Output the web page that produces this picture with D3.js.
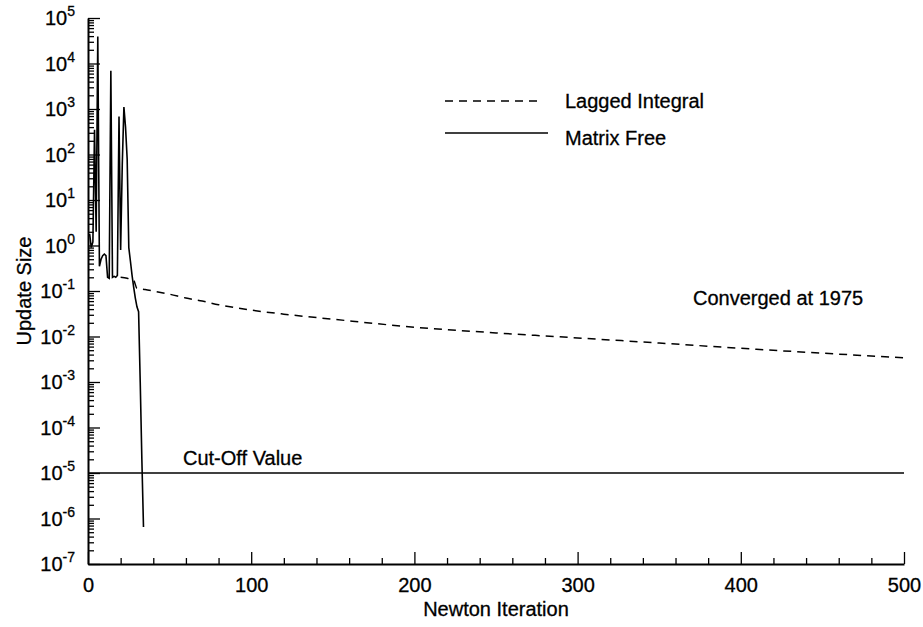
<!DOCTYPE html>
<html>
<head>
<meta charset="utf-8">
<script src="https://cdn.jsdelivr.net/npm/d3@7"></script>
<style>
  html, body { margin: 0; padding: 0; background: #fff; }
  svg { display: block; font-family: "Liberation Sans", Arial, Helvetica, sans-serif; }
  svg text { stroke: #000; stroke-width: 0.3px; }
</style>
</head>
<body>
<svg id="chart" width="923" height="627"></svg>
<script>
// Matrix-free Newton run: update size per iteration
const mfIter = [1, 2, 3, 4, 5, 6, 7, 8, 9, 10, 11, 12, 13, 14, 15, 16, 17, 18, 19, 20,
                21, 22, 23, 24, 25, 26, 27, 28, 29, 30, 31, 32, 33, 34];
const mfValues = [1.8, 0.9, 1.2, 350, 2, 39000, 0.35, 0.5, 0.6, 0.65, 0.6, 0.2, 0.19, 6900, 0.2, 0.21, 0.2, 0.22, 680, 0.8,
                  60, 1100, 400, 80, 0.9, 0.45, 0.22, 0.12, 0.07, 0.045, 0.035, 1e-3, 2e-5, 6.5e-7];

// Lagged-integral run: update size per iteration
const lagIter = [20, 24, 28, 30, 35, 40, 50, 60, 70, 80, 100, 120, 150, 200, 250, 300, 350, 400, 450, 500];
const lagValues = [0.2, 0.19, 0.17, 0.115, 0.108, 0.1, 0.085, 0.07, 0.06, 0.05, 0.038, 0.031, 0.024, 0.016,
                   0.012, 0.0093, 0.0072, 0.0055, 0.0043, 0.0034];

// Convergence threshold
const cutOff = 1e-5;

// Axis ticks
const xMajorTicks = [0, 100, 200, 300, 400, 500];
const yExponents = [-7, -6, -5, -4, -3, -2, -1, 0, 1, 2, 3, 4, 5];

const svg = d3.select("#chart");
const x = d3.scaleLinear().domain([0, 500]).range([88, 904]);
const y = d3.scaleLog().domain([1e-7, 1e5]).range([564, 18]);

const ink = "#000";
const fs = 20;

// Bottom axis: major ticks every 100, minor every 20, all pointing inward
const xMinor = d3.range(0, 501, 20).filter(v => v % 100 !== 0);
const xAxisG = svg.append("g").attr("transform", `translate(0,${y(1e-7)})`);
xAxisG.append("g")
  .call(d3.axisBottom(x).tickValues(xMinor).tickSize(-6).tickFormat(""))
  .call(g => g.select(".domain").remove());
xAxisG.append("g")
  .call(d3.axisBottom(x).tickValues(xMajorTicks).tickSize(-12).tickSizeOuter(0).tickPadding(14).tickFormat(d3.format("d")))
  .call(g => g.select(".domain").attr("stroke-width", 2))
  .call(g => g.selectAll("text").attr("font-size", fs).attr("fill", ink)
     .attr("font-family", "'Liberation Sans', Arial, sans-serif"));
xAxisG.selectAll("line").attr("stroke", ink).attr("stroke-width", 1.3);

// Left axis: decades with minor ticks 2..9
const yMinor = [];
yExponents.slice(0, -1).forEach(e => { for (let k = 2; k <= 9; k++) yMinor.push(k * Math.pow(10, e)); });
const yAxisG = svg.append("g").attr("transform", `translate(${x(0)},0)`);
yAxisG.append("g")
  .call(d3.axisLeft(y).tickValues(yMinor).tickSize(-6).tickFormat(""))
  .call(g => g.select(".domain").remove());
yAxisG.append("g")
  .call(d3.axisLeft(y).tickValues(yExponents.map(e => Math.pow(10, e))).tickSize(-12).tickSizeOuter(0).tickFormat(""))
  .call(g => g.select(".domain").attr("stroke-width", 2));
yAxisG.selectAll("line").attr("stroke", ink).attr("stroke-width", 1.3);

// Power-of-ten labels
const yLab = svg.append("g").attr("fill", ink);
yExponents.forEach(e => {
  const t = yLab.append("text")
    .attr("x", x(0) - 13)
    .attr("y", y(Math.pow(10, e)) + 7)
    .attr("text-anchor", "end")
    .attr("font-size", fs);
  t.append("tspan").text("10");
  t.append("tspan").attr("dy", -9).attr("font-size", 14).text(String(e));
});

// Axis titles
svg.append("text")
  .attr("x", (x(0) + x(500)) / 2).attr("y", 616)
  .attr("text-anchor", "middle").attr("font-size", fs).attr("fill", ink)
  .text("Newton Iteration");
svg.append("text")
  .attr("transform", `translate(31,${(y(1e5) + y(1e-7)) / 2}) rotate(-90)`)
  .attr("text-anchor", "middle").attr("font-size", fs).attr("fill", ink)
  .text("Update Size");

// Cut-off line
svg.append("line")
  .attr("x1", x(0)).attr("x2", x(500))
  .attr("y1", y(cutOff)).attr("y2", y(cutOff))
  .attr("stroke", ink).attr("stroke-width", 1.5);

const line = d3.line().x(d => x(d[0])).y(d => y(d[1]));

// Lagged integral (dashed)
svg.append("path")
  .datum(lagIter.map((n, i) => [n, lagValues[i]]))
  .attr("d", d3.line().curve(d3.curveMonotoneX).x(d => x(d[0])).y(d => y(d[1])))
  .attr("fill", "none").attr("stroke", ink).attr("stroke-width", 1.5)
  .attr("stroke-dasharray", "8,6");

// Matrix free (solid)
svg.append("path")
  .datum(mfIter.map((n, i) => [n, mfValues[i]]))
  .attr("d", line)
  .attr("fill", "none").attr("stroke", ink).attr("stroke-width", 1.6)
  .attr("stroke-linejoin", "miter");

// Legend
const legend = svg.append("g");
legend.append("line").attr("x1", 445).attr("x2", 541).attr("y1", 101).attr("y2", 101)
  .attr("stroke", ink).attr("stroke-width", 1.5).attr("stroke-dasharray", "8,6");
legend.append("text").attr("x", 565).attr("y", 108).attr("font-size", fs).attr("fill", ink).text("Lagged Integral");
legend.append("line").attr("x1", 445).attr("x2", 548).attr("y1", 133).attr("y2", 133)
  .attr("stroke", ink).attr("stroke-width", 1.5);
legend.append("text").attr("x", 565).attr("y", 145).attr("font-size", fs).attr("fill", ink).text("Matrix Free");

// Annotations
svg.append("text").attr("x", 693).attr("y", 305).attr("font-size", fs).attr("fill", ink).text("Converged at 1975");
svg.append("text").attr("x", 183).attr("y", 465).attr("font-size", fs).attr("fill", ink).text("Cut-Off Value");
</script>
</body>
</html>
